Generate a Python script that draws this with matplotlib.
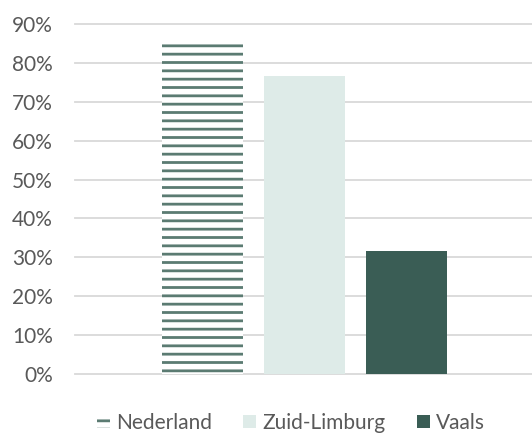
import matplotlib.pyplot as plt
from matplotlib.ticker import PercentFormatter

# values
regions = ['Nederland', 'Zuid-Limburg', 'Vaals']
shares = [0.851, 0.766, 0.316]
y_ticks = [0.0, 0.1, 0.2, 0.3, 0.4, 0.5, 0.6, 0.7, 0.8, 0.9]

plt.rcParams['font.family'] = ['Lato', 'DejaVu Sans']
plt.rcParams['hatch.linewidth'] = 2.0

W, H = 532, 436
fig = plt.figure(figsize=(W / 100, H / 100), dpi=100)

# plot area in pixels: x 75..532, zero line at y=374, 90% line at y=24
px_per_unit = (374 - 24) / 0.9
top_px = 20
ax = fig.add_axes([75 / W, (H - 374) / H, (W - 75) / W, (374 - top_px) / H])
ax.set_ylim(0, (374 - top_px) / px_per_unit)

pitch = 102.0
ax.set_xlim(-(304.5 - 75) / pitch, (532 - 304.5) / pitch)

styles = [
    dict(facecolor='white', edgecolor='#5b7b72', hatch='--', linewidth=0),
    dict(facecolor='#deebe8', edgecolor='#deebe8', linewidth=0),
    dict(facecolor='#3a5d55', edgecolor='#3a5d55', linewidth=0),
]
for i, (name, val, st) in enumerate(zip(regions, shares, styles)):
    ax.bar(i - 1, val, width=81 / pitch, label=name, zorder=2, **st)

ax.set_yticks(y_ticks)
ax.yaxis.set_major_formatter(PercentFormatter(1.0, decimals=0))
ax.grid(axis='y', color='#d9d9d9', linewidth=1.3, zorder=0)
for g in ax.get_ygridlines():
    g.set_clip_on(False)
ax.set_xticks([])
ax.tick_params(axis='y', length=0, pad=16, labelsize=15, labelcolor='#595959')
for s in ax.spines.values():
    s.set_visible(False)

fig.legend(loc='center', bbox_to_anchor=(291 / W, 1 - 423 / H), ncol=3,
           frameon=False, fontsize=15, labelcolor='#595959',
           handlelength=0.63, handleheight=0.63, handletextpad=0.3,
           columnspacing=1.5)

fig.savefig('out.png', dpi=100)
